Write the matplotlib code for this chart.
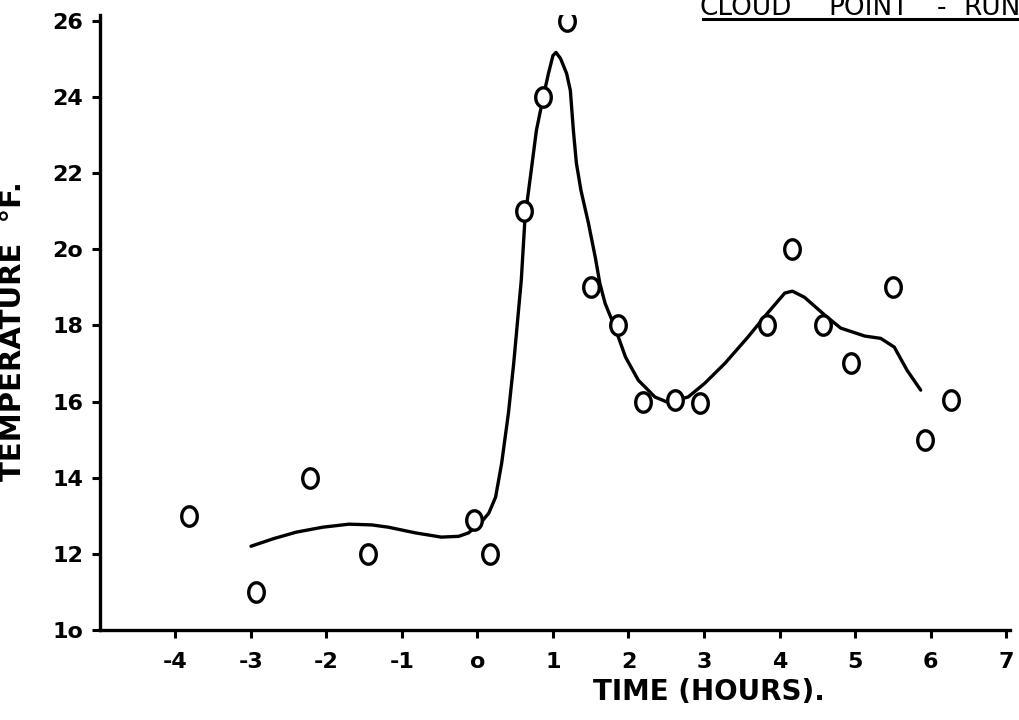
import numpy as np
import matplotlib
matplotlib.use("Agg")
import matplotlib.pyplot as plt
from matplotlib.path import Path

# Observed cloud-point temperatures (deg F) against time (hours)
time_obs = [-3.82, -2.93, -2.22, -1.45, -0.04, 0.16, 0.62, 0.87, 1.18, 1.50,
            1.86, 2.19, 2.62, 2.95, 3.84, 4.16, 4.57, 4.95, 5.50, 5.93, 6.27]
temp_obs = [13.0, 11.0, 14.0, 12.0, 12.9, 12.0, 21.0, 24.0, 26.0, 19.0,
            18.0, 16.0, 16.05, 15.95, 18.0, 20.0, 18.0, 17.0, 19.0, 15.0, 16.05]

# Hand-faired trend curve through the observations
time_fit = [-3.00, -2.70, -2.40, -2.05, -1.70, -1.40, -1.18, -0.82, -0.48, -0.25,
            -0.12, 0.05, 0.15, 0.24, 0.32, 0.41, 0.48, 0.54, 0.58, 0.63,
            0.70, 0.78, 0.87, 0.94, 1.00, 1.04, 1.10, 1.18, 1.23, 1.27,
            1.31, 1.37, 1.47, 1.56, 1.62, 1.69, 1.82, 1.96, 2.13, 2.35,
            2.52, 2.79, 3.01, 3.28, 3.58, 3.84, 4.07, 4.17, 4.33, 4.60,
            4.81, 5.13, 5.34, 5.52, 5.69, 5.87]
temp_fit = [12.20, 12.40, 12.57, 12.70, 12.78, 12.76, 12.70, 12.55, 12.44, 12.46,
            12.55, 12.83, 13.07, 13.49, 14.38, 15.70, 17.01, 18.32, 19.19, 20.84,
            21.89, 23.12, 23.99, 24.62, 25.09, 25.17, 25.01, 24.62, 24.17, 23.12,
            22.26, 21.55, 20.68, 19.79, 19.11, 18.58, 17.95, 17.17, 16.56, 16.12,
            15.98, 16.12, 16.48, 17.01, 17.69, 18.32, 18.85, 18.90, 18.74, 18.27,
            17.93, 17.72, 17.66, 17.43, 16.82, 16.30]

x_ticks = [-4, -3, -2, -1, 0, 1, 2, 3, 4, 5, 6, 7]
x_tick_labels = ["-4", "-3", "-2", "-1", "o", "1", "2", "3", "4", "5", "6", "7"]
y_ticks = [10, 12, 14, 16, 18, 20, 22, 24, 26]
y_tick_labels = ["1o", "12", "14", "16", "18", "2o", "22", "24", "26"]

title_words = ["CLOUD", "POINT", "-", "RUN"]
title_x = [0.686, 0.812, 0.918, 0.944]

plt.rcParams["font.family"] = ["DejaVu Sans"]
plt.rcParams["font.weight"] = "bold"

fig = plt.figure(figsize=(10.2, 7.2), dpi=100)
ax = fig.add_axes([0.098, 0.125, 0.892, 0.854])

# slightly tall open ellipse, like a hand-drawn "o"
t = np.linspace(0, 2 * np.pi, 40)
ell = Path(np.column_stack([0.8 * np.cos(t), np.sin(t)]), closed=True)

ax.plot(time_fit, temp_fit, color="black", lw=2.4, solid_capstyle="round",
        solid_joinstyle="round")
ax.plot(time_obs, temp_obs, linestyle="none", marker=ell, markersize=14,
        markerfacecolor="white", markeredgecolor="black", markeredgewidth=2.4)

ax.set_xlim(-5, 7.05)
ax.set_ylim(10, 26.15)
ax.set_xticks(x_ticks)
ax.set_xticklabels(x_tick_labels)
ax.set_yticks(y_ticks)
ax.set_yticklabels(y_tick_labels)

for s in ("top", "right"):
    ax.spines[s].set_visible(False)
for s in ("left", "bottom"):
    ax.spines[s].set_linewidth(2.4)

ax.tick_params(axis="both", direction="out", length=6, width=2.2,
               labelsize=16, pad=6)
ax.tick_params(axis="x", pad=10)

ax.set_xlabel("TIME (HOURS).", fontsize=20, fontweight="bold")
ax.xaxis.set_label_coords(0.669, -0.078)
ax.set_ylabel("TEMPERATURE  °F.", fontsize=21, fontweight="bold")
ax.yaxis.set_label_coords(-0.08, 0.486)

# underlined heading running off the right edge
for word, xw in zip(title_words, title_x):
    fig.text(xw, 0.979, word, fontsize=19, ha="left", va="baseline",
             fontweight="normal",
             family=["Liberation Sans Narrow", "DejaVu Sans"])
fig.add_artist(plt.Line2D([0.689, 1.0], [0.974, 0.974], color="black", lw=2.2,
                          transform=fig.transFigure))

fig.savefig("out.png", dpi=100, facecolor="white")
